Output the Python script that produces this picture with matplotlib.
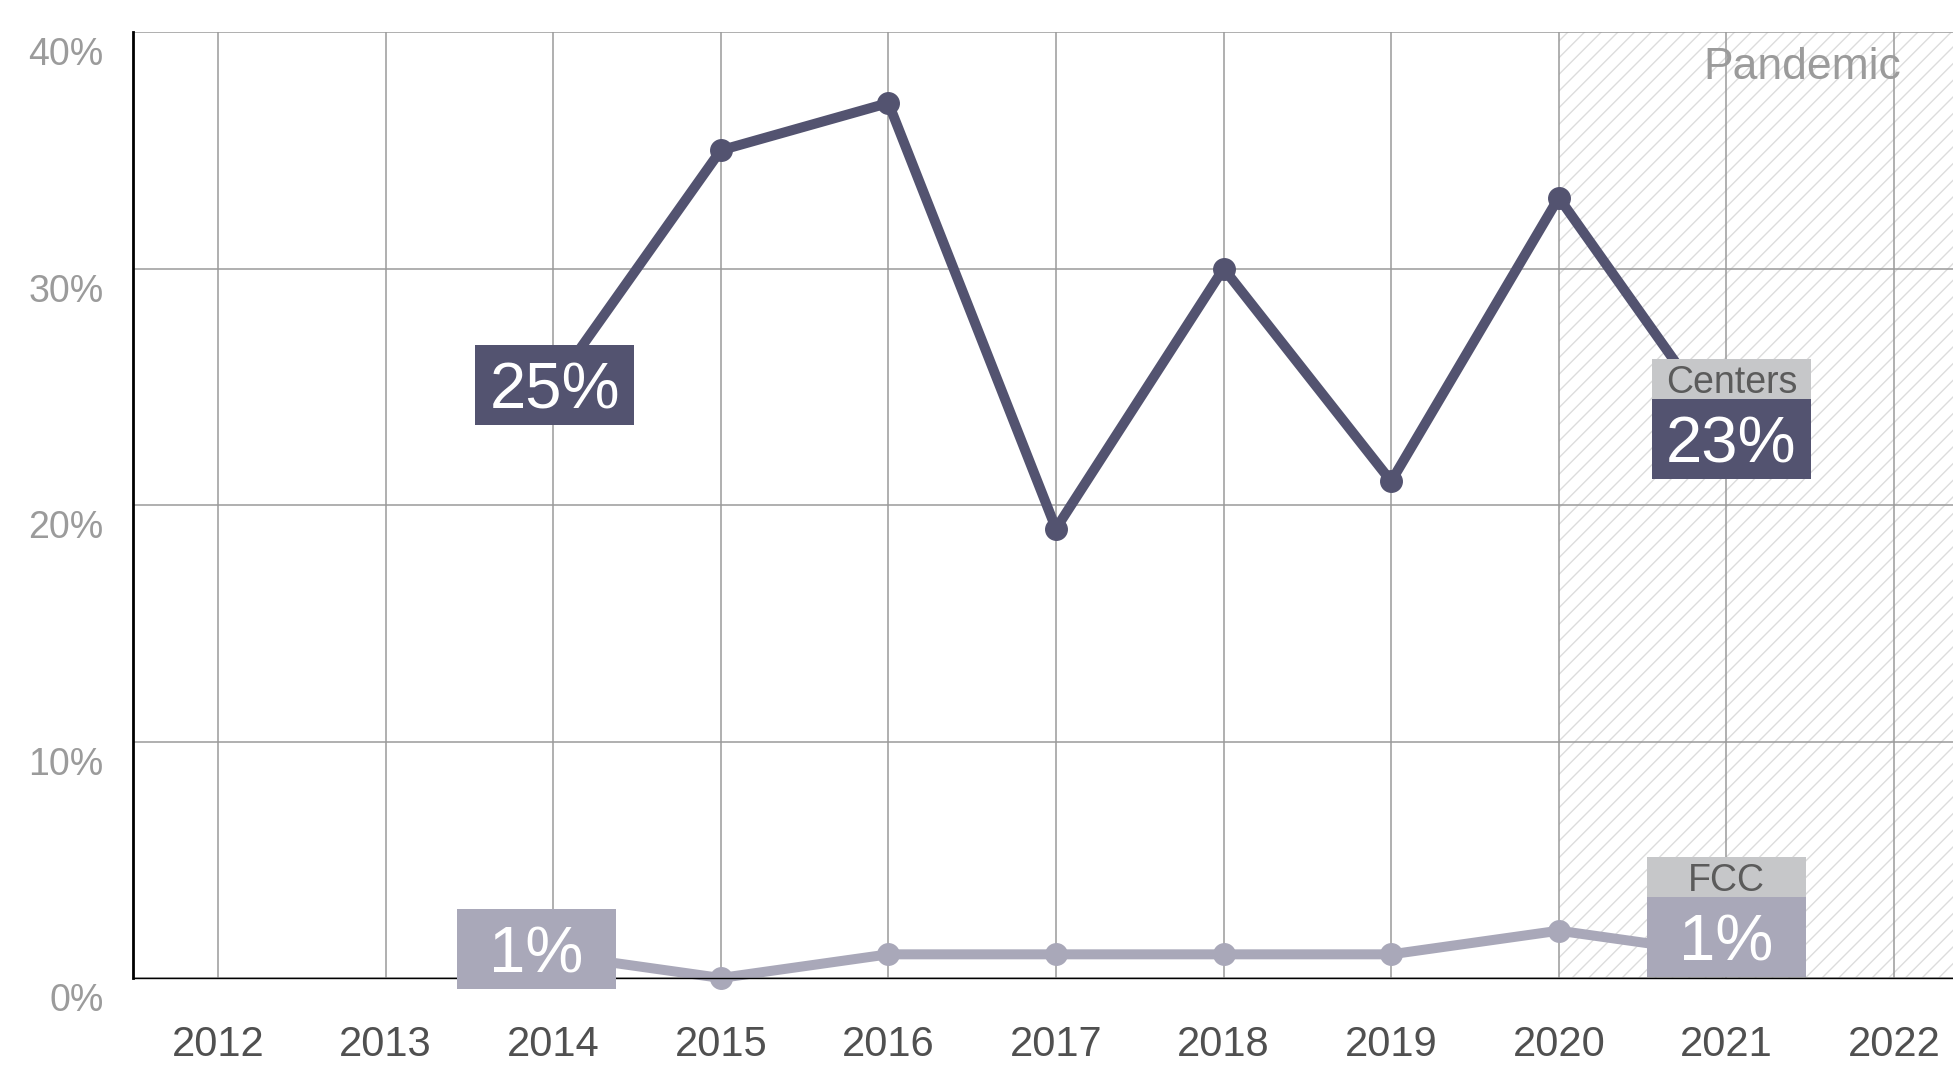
"""Centers vs FCC share by year, with the pandemic period shaded."""

from matplotlib import pyplot as plt
from matplotlib import transforms
from matplotlib.patches import Rectangle

# Data.
years = [2014, 2015, 2016, 2017, 2018, 2019, 2020, 2021]
centers = [25, 35, 37, 19, 30, 21, 33, 23]
fcc = [1, 0, 1, 1, 1, 1, 2, 1]
year_ticks = list(range(2012, 2023))
pct_ticks = [0, 10, 20, 30, 40]
pandemic_start = 2020

# Colours.
dark = "#535370"
light = "#a9a8b9"
tag_grey = "#c6c7c9"
grid_grey = "#9a9a9a"

plt.rcParams["font.family"] = ["Liberation Sans", "DejaVu Sans"]
plt.rcParams["hatch.linewidth"] = 1.0
plt.rcParams["hatch.color"] = "#dcdcdc"

fig = plt.figure(figsize=(19.53, 10.72), dpi=100)
ax = fig.add_axes([0.0681, 0.0877, 0.9319, 0.8824])

xlim = (2011.493, 2022.352)
ylim = (0, 40)
ax.set_xlim(*xlim)
ax.set_ylim(*ylim)

# Pandemic shading.
ax.axvspan(pandemic_start, xlim[1], facecolor="white", edgecolor="#dcdcdc",
           hatch="//", lw=0, zorder=0)
ax.text(2022.04, 38.0, "Pandemic", ha="right", va="baseline",
        fontsize=32, color="#9b9b9b", zorder=6)

# Grid.
for yr in year_ticks:
    ax.axvline(yr, color=grid_grey, lw=1.1, zorder=1)
for p in pct_ticks:
    ax.axhline(p, color=grid_grey, lw=1.1, zorder=1)

for side in ("top", "right"):
    ax.spines[side].set_visible(False)
ax.spines["left"].set_linewidth(2.0)
ax.spines["left"].set_color("black")
ax.spines["bottom"].set_linewidth(1.0)
ax.spines["bottom"].set_color("black")
ax.spines["left"].set_zorder(4)
ax.spines["bottom"].set_zorder(4)

# Lines.
ax.plot(years, centers, color=dark, lw=7.2, marker="o", ms=15.5,
        solid_capstyle="round", zorder=3, clip_on=False)
ax.plot(years, fcc, color=light, lw=7.2, marker="o", ms=15.5,
        solid_capstyle="round", zorder=3, clip_on=False)

# Ticks.
ax.set_xticks(year_ticks)
ax.set_xticklabels([str(y) for y in year_ticks])
ax.set_yticks(pct_ticks)
ax.set_yticklabels([f"{p}%" for p in pct_ticks])
ax.tick_params(axis="x", length=0, pad=34, labelsize=30, labelcolor="#505050")
ax.tick_params(axis="y", length=0, pad=21, labelsize=27, labelcolor="#9b9b9b")
shift = transforms.ScaledTranslation(0, -0.19, fig.dpi_scale_trans)
for lab in ax.get_yticklabels():
    lab.set_transform(lab.get_transform() + shift)

# Value tags.
box_w = 0.949
box_h = 3.38
tag_h = 1.69


def value_box(x, y, text, color, header=None):
    bottom = y - box_h / 2
    ax.add_patch(Rectangle((x - box_w / 2, bottom), box_w, box_h,
                           facecolor=color, edgecolor="none", zorder=5,
                           clip_on=False))
    ax.text(x, bottom + box_h / 2, text, ha="center", va="center_baseline",
            fontsize=47, color="white", zorder=6)
    if header:
        top = bottom + box_h
        ax.add_patch(Rectangle((x - box_w / 2, top), box_w, tag_h,
                               facecolor=tag_grey, edgecolor="none", zorder=5))
        ax.text(x, top + tag_h / 2, header, ha="center", va="center_baseline",
                fontsize=27, color="#5b5b5b", zorder=6)


value_box(years[0] + 0.01, centers[0] + 0.07, f"{centers[0]}%", dark)
value_box(years[0] - 0.1, fcc[0] + 0.23, f"{fcc[0]}%", light)
value_box(years[-1] + 0.03, centers[-1] - 0.2, f"{centers[-1]}%", dark,
          header="Centers")
value_box(years[-1], fcc[-1] + 0.73, f"{fcc[-1]}%", light, header="FCC")

fig.savefig("out.png", dpi=100)
